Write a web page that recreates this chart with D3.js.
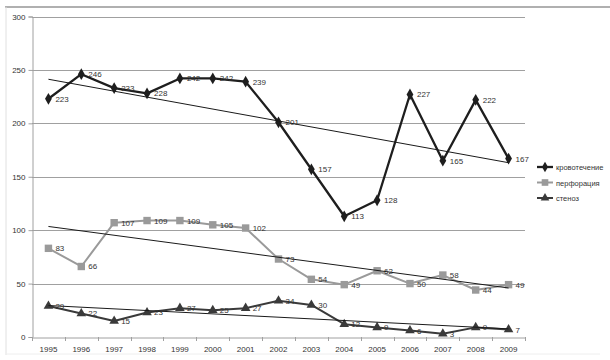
<!DOCTYPE html>
<html><head><meta charset="utf-8">
<script src="https://cdn.jsdelivr.net/npm/d3@7"></script>
<style>body{margin:0;background:#fff}svg{display:block}</style>
</head><body><svg id="c" width="610" height="360"></svg>
<script>
const years = ["1995","1996","1997","1998","1999","2000","2001","2002","2003","2004","2005","2006","2007","2008","2009"];
const bleeding = [223,246,233,228,242,242,239,201,157,113,128,227,165,222,167];
const perforation = [83,66,107,109,109,105,102,73,54,49,62,50,58,44,49];
const stenosis = [29,22,15,23,27,25,27,34,30,12,9,6,3,9,7];
const seriesNames = ["кровотечение","перфорация","стеноз"];
const yTicks = [0,50,100,150,200,250,300];

(function(){
const svg = d3.select("#c");
const font = "'Liberation Sans', Arial, sans-serif";
const pL = 32, pR = 525, pT = 16.5, pB = 337;
const x = d3.scaleBand().domain(years).range([pL, pR]);
const y = d3.scaleLinear().domain([0, 300]).range([pB, pT]);
const cx = d => x(d) + x.bandwidth()/2;

// frame
svg.append("line").attr("x1",5).attr("x2",610).attr("y1",7).attr("y2",7).attr("stroke","#b0b0b0").attr("stroke-width",2);
svg.append("line").attr("x1",6).attr("x2",6).attr("y1",7).attr("y2",355).attr("stroke","#e0e0e0").attr("stroke-width",1);
svg.append("line").attr("x1",6).attr("x2",600).attr("y1",354).attr("y2",354).attr("stroke","#eeeeee").attr("stroke-width",1);

// gridlines
svg.append("g").selectAll("line").data(yTicks.filter(t=>t>0)).join("line")
  .attr("x1", pL).attr("x2", pR)
  .attr("y1", d => Math.round(y(d))+0.5).attr("y2", d => Math.round(y(d))+0.5)
  .attr("stroke", "#a0a0a0").attr("stroke-width", 1);

// y axis
const ya = svg.append("g").attr("transform", `translate(${pL+0.5},0)`)
  .call(d3.axisLeft(y).tickValues(yTicks).tickSize(4).tickPadding(3));
ya.select(".domain").attr("stroke","#a0a0a0");
ya.selectAll(".tick line").attr("stroke","#a0a0a0");
ya.selectAll("text").attr("font-family",font).attr("font-size",8).attr("fill","#333");

// x axis
const xa = svg.append("g").attr("transform", `translate(0,${Math.round(pB)+0.5})`)
  .call(d3.axisBottom(x).tickSize(0).tickPadding(9));
xa.select(".domain").attr("stroke","#a0a0a0");
xa.selectAll("text").attr("font-family",font).attr("font-size",8).attr("fill","#333");
svg.append("g").selectAll("line").data(years.concat(["end"])).join("line")
  .attr("x1", (d,i) => Math.round(pL + i*x.bandwidth())+0.5)
  .attr("x2", (d,i) => Math.round(pL + i*x.bandwidth())+0.5)
  .attr("y1", Math.round(pB)).attr("y2", Math.round(pB)+4)
  .attr("stroke","#a0a0a0");

function trend(vals){
  const n = vals.length, xs = vals.map((v,i)=>i);
  const mx = d3.mean(xs), my = d3.mean(vals);
  const b = d3.sum(xs.map((xi,i)=>(xi-mx)*(vals[i]-my))) / d3.sum(xs.map(xi=>(xi-mx)**2));
  const a = my - b*mx;
  return [a, a + b*(n-1)];
}

const series = [
  {name: seriesNames[0], vals: bleeding, color: "#1e1e1e", w: 2.3, shape: d3.symbolDiamond, size: 40},
  {name: seriesNames[1], vals: perforation, color: "#9a9a9a", w: 2, shape: d3.symbolSquare, size: 55},
  {name: seriesNames[2], vals: stenosis, color: "#3a3a3a", w: 2, shape: d3.symbolTriangle, size: 40},
];

const line = d3.line().x((d,i)=>cx(years[i])).y(d=>y(d));
series.forEach(s => {
  svg.append("path").datum(s.vals).attr("d", line).attr("fill","none")
    .attr("stroke", s.color).attr("stroke-width", s.w).attr("stroke-linejoin","round");
});
series.forEach(s => {
  svg.append("g").selectAll("path").data(s.vals).join("path")
    .attr("transform", (d,i)=>`translate(${cx(years[i])},${y(d)})`)
    .attr("d", d3.symbol().type(s.shape).size(s.size)).attr("fill", s.color);
});
series.forEach(s => {
  const [a, b] = trend(s.vals);
  svg.append("line").attr("x1", cx(years[0])).attr("x2", cx(years[years.length-1]))
    .attr("y1", y(a)).attr("y2", y(b)).attr("stroke","#1a1a1a").attr("stroke-width",1);
});
series.forEach(s => {
  svg.append("g").selectAll("text").data(s.vals).join("text")
    .attr("x", (d,i)=>cx(years[i])+7).attr("y", d=>y(d)+3)
    .attr("font-family",font).attr("font-size",8).attr("fill","#333").text(d=>d);
});

series.forEach((s,i) => {
  const ly = 167 + i*15.5;
  const g = svg.append("g");
  g.append("line").attr("x1",537).attr("x2",553).attr("y1",ly).attr("y2",ly).attr("stroke",s.color).attr("stroke-width",s.w);
  g.append("path").attr("transform",`translate(545,${ly})`).attr("d", d3.symbol().type(s.shape).size(s.size*0.8)).attr("fill",s.color);
  g.append("text").attr("x",556).attr("y",ly+3).attr("font-family",font).attr("font-size",7.5).attr("fill","#333").text(s.name);
});
})();
</script></body></html>
